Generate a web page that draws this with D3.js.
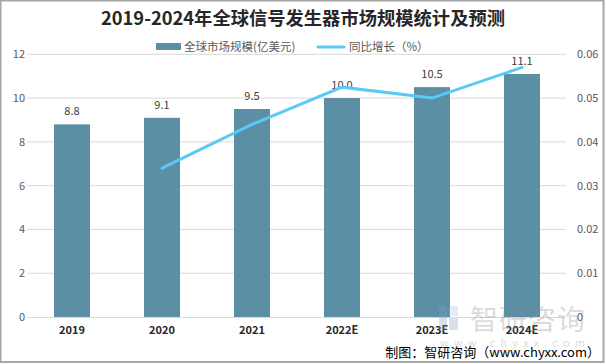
<!DOCTYPE html>
<html><head><meta charset="utf-8">
<script src="https://cdn.jsdelivr.net/npm/d3@7"></script>
<style>body{margin:0;background:#fff}svg{display:block}</style>
</head><body>
<svg id="c" width="606" height="364"></svg>
<script>
const categories = ["2019","2020","2021","2022E","2023E","2024E"];
const marketSize = [8.8, 9.1, 9.5, 10.0, 10.5, 11.1];
const growth = [null, 0.034, 0.044, 0.0525, 0.05, 0.057];
const leftTicks = [0,2,4,6,8,10,12];
const rightTicks = [0,0.01,0.02,0.03,0.04,0.05,0.06];

const svg = d3.select("#c");
const font = "'Microsoft YaHei','Noto Sans CJK SC',sans-serif";
const W=606,H=364;
svg.append("rect").attr("x",0.5).attr("y",0.5).attr("width",W-3).attr("height",H-2.5)
  .attr("fill","#fff").attr("stroke","#a6a6a6").attr("stroke-width",2);

const x = d3.scaleBand().domain(categories).range([27,567]).paddingInner(0.6).paddingOuter(0.3);
const yL = d3.scaleLinear().domain([0,12]).range([317,54.3]);
const yR = d3.scaleLinear().domain([0,0.06]).range([317,54.3]);

// gridlines
svg.append("g").selectAll("line").data(leftTicks.filter(d=>d>0)).join("line")
  .attr("x1",27).attr("x2",566).attr("y1",d=>yL(d)).attr("y2",d=>yL(d))
  .attr("stroke","#d9d9d9").attr("stroke-width",1);

// left axis
const gl = svg.append("g").attr("transform","translate(27,0)")
  .call(d3.axisLeft(yL).tickValues(leftTicks).tickSize(0).tickPadding(8));
gl.select(".domain").remove();
gl.selectAll("text").attr("fill","#595959").style("font-family",font).style("font-size","11px").attr("text-anchor","end")
  .attr("x",-2);
// right axis
const gr = svg.append("g").attr("transform","translate(566,0)")
  .call(d3.axisRight(yR).tickValues(rightTicks).tickSize(0).tickPadding(11).tickFormat(d=>d===0?"0":d3.format(".2f")(d)));
gr.select(".domain").remove();
gr.selectAll("text").attr("fill","#595959").style("font-family",font).style("font-size","11px");

// bars
svg.append("g").selectAll("rect").data(categories).join("rect")
  .attr("x",d=>x(d)).attr("width",x.bandwidth())
  .attr("y",(d,i)=>yL(marketSize[i])).attr("height",(d,i)=>yL(0)-yL(marketSize[i]))
  .attr("fill","#5b8fa6");

// x axis
const gx = svg.append("g").attr("transform","translate(0,317)")
  .call(d3.axisBottom(x).tickSize(0).tickPadding(9));
gx.select(".domain").attr("stroke","#d9d9d9").attr("d","M27,0.5H566");
gx.selectAll("text").attr("fill","#262626").style("font-family",font).style("font-size","11px").style("font-weight","bold");

// bar labels
svg.append("g").selectAll("text").data(categories).join("text")
  .attr("x",d=>x(d)+x.bandwidth()/2).attr("y",(d,i)=>yL(marketSize[i])-9)
  .attr("text-anchor","middle").attr("fill","#404040").style("font-family",font).style("font-size","11px")
  .text((d,i)=>marketSize[i].toFixed(1));

// line
const pts = categories.map((c,i)=>({c,v:growth[i]})).filter(d=>d.v!=null);
svg.append("path").datum(pts)
  .attr("d",d3.line().x(d=>x(d.c)+x.bandwidth()/2).y(d=>yR(d.v)))
  .attr("fill","none").attr("stroke","#5bc8f5").attr("stroke-width",3).attr("stroke-linecap","round");

// title
svg.append("text").attr("x",303).attr("y",25).attr("text-anchor","middle")
  .attr("fill","#262626").style("font-family",font).style("font-size","18px").style("font-weight","bold")
  .attr("textLength",404).attr("lengthAdjust","spacingAndGlyphs")
  .text("2019-2024年全球信号发生器市场规模统计及预测");

// legend
svg.append("rect").attr("x",156).attr("y",43).attr("width",25).attr("height",7).attr("fill","#5b8fa6");
svg.append("text").attr("x",184).attr("y",51).attr("fill","#595959").style("font-family",font).style("font-size","11.5px").text("全球市场规模(亿美元)");
svg.append("line").attr("x1",318).attr("x2",344).attr("y1",47).attr("y2",47).attr("stroke","#5bc8f5").attr("stroke-width",3).attr("stroke-linecap","round");
svg.append("text").attr("x",349).attr("y",51).attr("fill","#595959").style("font-family",font).style("font-size","11.5px").text("同比增长（%）");

// watermark
const wm = svg.append("g").attr("opacity",0.3);
wm.append("rect").attr("x",439).attr("y",306).attr("width",8).attr("height",24).attr("fill","#7f9fc0");
wm.append("rect").attr("x",449).attr("y",306).attr("width",9).attr("height",10).attr("fill","#a8c0d8");
wm.append("rect").attr("x",449).attr("y",318).attr("width",9).attr("height",12).attr("fill","#7f9fc0");
wm.append("text").attr("x",470).attr("y",330).attr("fill","#8c8c8c").style("font-family",font).style("font-size","28px").attr("textLength",115).text("智研咨询");
wm.append("text").attr("x",440).attr("y",347).attr("fill","#8c8c8c").style("font-family",font).style("font-size","11px").attr("textLength",145).text("w w w . c h y x x . c o m");

// source
svg.append("text").attr("x",600).attr("y",357).attr("text-anchor","end").attr("fill","#000")
  .style("font-family",font).style("font-size","13px").text("制图：智研咨询（www.chyxx.com）");
</script>
</body></html>
